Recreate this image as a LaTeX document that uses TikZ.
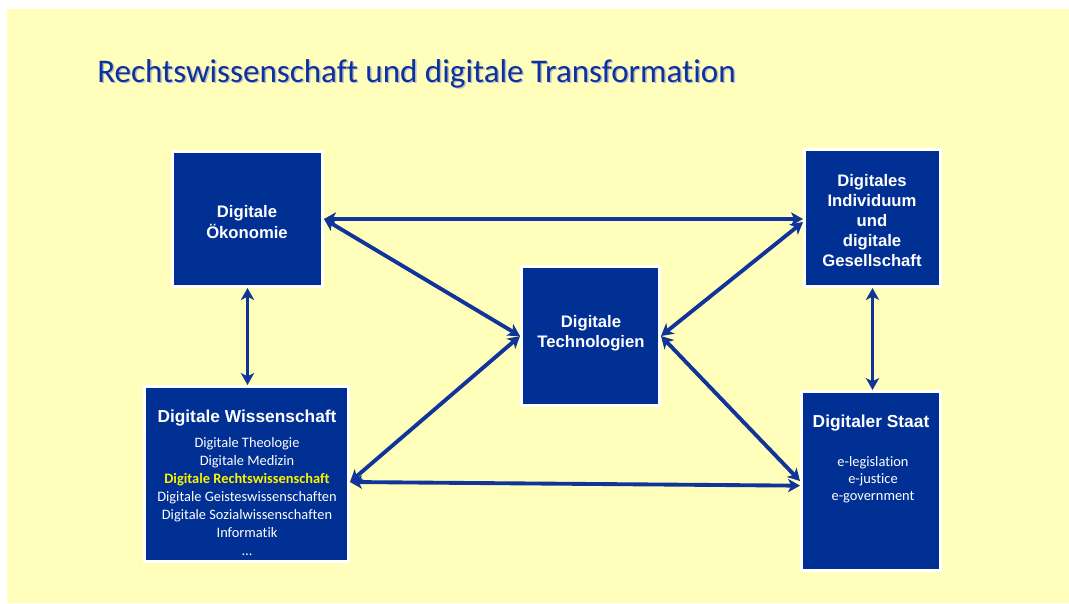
\documentclass[tikz,border=0pt]{standalone}
\usepackage{fontspec}
\setmainfont{Carlito}[Ligatures=NoCommon]
\newfontfamily\arialfont{Liberation Sans}
\usetikzlibrary{arrows.meta}

\definecolor{pagebg}{RGB}{255,255,187}
\definecolor{boxnavy}{RGB}{0,48,148}
\definecolor{arrownavy}{RGB}{16,52,154}
\definecolor{titleblue}{RGB}{12,50,160}
\definecolor{hiyellow}{RGB}{255,242,0}

\tikzset{
  field/.style={draw=white, line width=2.25pt, fill=boxnavy, inner sep=0pt},
  label/.style={text=white, align=center, font=\arialfont\bfseries\fontsize{12.5}{15}\selectfont, inner sep=0pt},
  items/.style={text=white, align=center, inner sep=0pt},
  link/.style={draw=arrownavy, line width=2.9pt,
    {Stealth[length=9pt, width=10pt, inset=2.5pt]}-{Stealth[length=9pt, width=10pt, inset=2.5pt]}},
}

\begin{document}
\begin{tikzpicture}[x=0.75pt, y=-0.75pt]
  % page and slide background
  \path[use as bounding box, fill=white] (0,0) rectangle (1069,603);
  \fill[pagebg] (7,9) rectangle (1069,603);

  % title with its soft drop shadow
  \node[anchor=base west, inner sep=0pt, text=black!25, font=\fontsize{24.8}{28}\selectfont]
    (titleshadow) at (98.5,83.5) {Rechtswissenschaft und digitale Transformation};
  \node[anchor=base west, inner sep=0pt, text=titleblue, font=\fontsize{24.8}{28}\selectfont]
    (title) at (97,82) {Rechtswissenschaft und digitale Transformation};

  % boxes
  \node[field, minimum width=112.5pt, minimum height=101.25pt] (oek)   at (247.5,219) {};
  \node[field, minimum width=102pt,   minimum height=102.75pt] (ind)   at (872.5,218) {};
  \node[field, minimum width=103.5pt, minimum height=104.25pt] (tech)  at (590.5,336) {};
  \node[field, minimum width=153pt,   minimum height=131.25pt] (wiss)  at (246.5,474) {};
  \node[field, minimum width=104.25pt,minimum height=134.25pt] (staat) at (871,481) {};

  % box texts
  \node[label, font=\arialfont\bfseries\fontsize{12.5}{15.75}\selectfont] (oektext) at (247,222) {Digitale\\Ökonomie};
  \node[label] (indtext) at (872,221) {Digitales\\Individuum\\und\\digitale\\Gesellschaft};
  \node[label] (techtext) at (591,333) {Digitale\\Technologien};

  \node[label, font=\arialfont\bfseries\fontsize{13}{15}\selectfont] (wisshead) at (247,418) {Digitale Wissenschaft};
  \node[items, font=\fontsize{10.8}{13.5}\selectfont] (wissitems) at (247,497)
    {Digitale Theologie\\Digitale Medizin\\\textcolor{hiyellow}{\bfseries Digitale Rechtswissenschaft}\\Digitale Geisteswissenschaften\\Digitale Sozialwissenschaften\\Informatik\\\dots};

  \node[label, font=\arialfont\bfseries\fontsize{13}{15}\selectfont] (staathead) at (871,423) {Digitaler Staat};
  \node[items, font=\fontsize{10.8}{12.75}\selectfont] (staatitems) at (873,480)
    {e-legislation\\e-justice\\e-government};

  % connectors
  \draw[link] (oek.east) -- (oek.east -| ind.west);
  \draw[link] (oek.east) -- (tech.west);
  \draw[link] ([yshift=-3pt]ind.west) -- (tech.east);
  \draw[link] ([yshift=-6pt]wiss.east) -- (tech.west);
  \draw[link] (staat.west) -- (tech.east);
  \draw[link] ([yshift=-6pt]wiss.east) -- ([yshift=-3.5pt]staat.west);
  \draw[link] (oek.south) -- (oek.south |- wiss.north);
  \draw[link] (ind.south) -- (ind.south |- staat.north);
\end{tikzpicture}
\end{document}
